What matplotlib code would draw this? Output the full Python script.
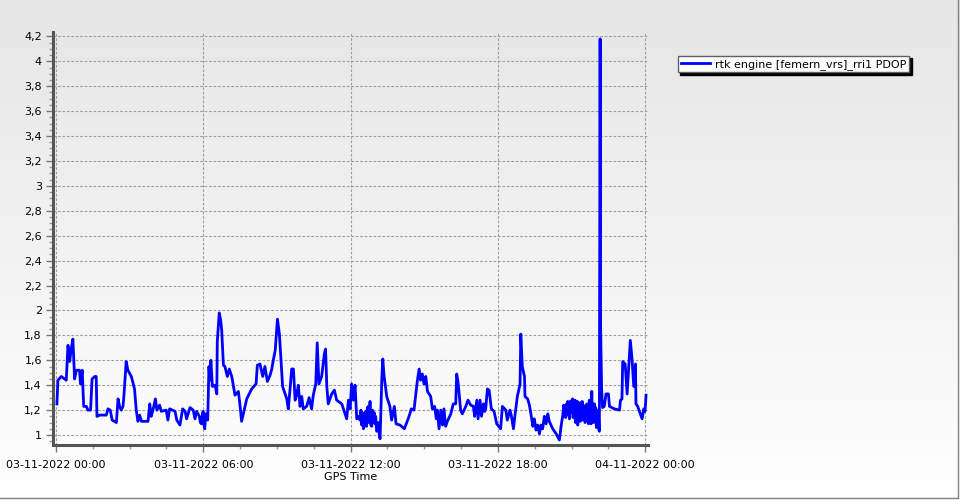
import numpy as np
import matplotlib
matplotlib.use("Agg")
import matplotlib.pyplot as plt
from matplotlib.lines import Line2D
from matplotlib.ticker import MultipleLocator, FuncFormatter

# (hours since 03-11-2022 00:00, PDOP) in four 6h blocks
pdop_00_06 = [
    (0.04, 1.25), (0.08, 1.44), (0.22, 1.47), (0.42, 1.44), (0.49, 1.72), (0.56, 1.59),
    (0.62, 1.69), (0.69, 1.77), (0.76, 1.45), (0.83, 1.52), (0.96, 1.52), (1.00, 1.41),
    (1.07, 1.52), (1.13, 1.23), (1.24, 1.23), (1.30, 1.20), (1.41, 1.20), (1.47, 1.45),
    (1.58, 1.47), (1.64, 1.47), (1.67, 1.15), (1.78, 1.16), (2.05, 1.16), (2.12, 1.21),
    (2.21, 1.20), (2.29, 1.12), (2.46, 1.10), (2.53, 1.29), (2.59, 1.23), (2.66, 1.20),
    (2.73, 1.23), (2.77, 1.32), (2.86, 1.59), (2.93, 1.52), (3.07, 1.47), (3.20, 1.37),
    (3.27, 1.20), (3.34, 1.11), (3.41, 1.16), (3.48, 1.11), (3.75, 1.11), (3.82, 1.25),
    (3.88, 1.15), (3.95, 1.20), (4.05, 1.29), (4.11, 1.20), (4.22, 1.24), (4.29, 1.19),
    (4.49, 1.20), (4.56, 1.12), (4.63, 1.21), (4.85, 1.19), (4.92, 1.12), (5.05, 1.08),
    (5.16, 1.21), (5.26, 1.19), (5.32, 1.13), (5.46, 1.22), (5.59, 1.20), (5.66, 1.13),
    (5.73, 1.19), (5.84, 1.15), (5.88, 1.10), (5.93, 1.09), (5.97, 1.18), (6.00, 1.19),
]
pdop_06_12 = [
    (6.03, 1.08), (6.06, 1.05), (6.09, 1.15), (6.11, 1.17), (6.18, 1.12), (6.23, 1.55),
    (6.27, 1.44), (6.31, 1.60), (6.37, 1.39), (6.48, 1.40), (6.55, 1.33), (6.57, 1.75),
    (6.65, 1.98), (6.71, 1.92), (6.75, 1.84), (6.82, 1.56), (6.88, 1.55), (6.98, 1.47),
    (7.06, 1.53), (7.16, 1.47), (7.29, 1.32), (7.43, 1.35), (7.50, 1.23), (7.56, 1.11),
    (7.63, 1.17), (7.77, 1.29), (7.97, 1.37), (8.15, 1.41), (8.20, 1.56), (8.31, 1.57),
    (8.42, 1.47), (8.51, 1.55), (8.61, 1.43), (8.72, 1.48), (8.79, 1.53), (8.85, 1.60),
    (8.93, 1.68), (9.02, 1.93), (9.10, 1.81), (9.15, 1.65), (9.23, 1.39), (9.33, 1.33),
    (9.40, 1.29), (9.46, 1.21), (9.53, 1.36), (9.60, 1.53), (9.67, 1.53), (9.74, 1.28),
    (9.80, 1.32), (9.87, 1.40), (9.94, 1.23), (10.01, 1.31), (10.07, 1.21), (10.21, 1.23),
    (10.31, 1.30), (10.41, 1.21), (10.48, 1.32), (10.58, 1.41), (10.64, 1.74), (10.71, 1.41),
    (10.82, 1.47), (10.93, 1.65), (10.98, 1.69), (11.03, 1.39), (11.09, 1.25), (11.23, 1.33),
    (11.34, 1.36), (11.43, 1.28), (11.64, 1.25), (11.84, 1.13), (11.91, 1.28), (11.98, 1.21),
]
pdop_12_18 = [
    (12.04, 1.41), (12.11, 1.28), (12.18, 1.40), (12.25, 1.13), (12.32, 1.15), (12.38, 1.12),
    (12.42, 1.20), (12.45, 1.08), (12.48, 1.18), (12.52, 1.05), (12.55, 1.17), (12.58, 1.07),
    (12.62, 1.19), (12.65, 1.07), (12.68, 1.22), (12.72, 1.23), (12.75, 1.10), (12.79, 1.27),
    (12.82, 1.08), (12.86, 1.07), (12.89, 1.20), (12.93, 1.12), (12.96, 1.18), (12.99, 1.09),
    (13.02, 1.15), (13.06, 1.03), (13.10, 1.04), (13.13, 1.10), (13.17, 0.99), (13.20, 0.97),
    (13.27, 1.45), (13.31, 1.61), (13.36, 1.48), (13.47, 1.31), (13.60, 1.23), (13.67, 1.12),
    (13.78, 1.23), (13.85, 1.09), (14.01, 1.08), (14.19, 1.05), (14.38, 1.15), (14.47, 1.21),
    (14.58, 1.20), (14.65, 1.32), (14.72, 1.44), (14.79, 1.53), (14.85, 1.44), (14.92, 1.49),
    (14.99, 1.41), (15.06, 1.47), (15.13, 1.35), (15.26, 1.31), (15.33, 1.21), (15.42, 1.23),
    (15.49, 1.13), (15.53, 1.20), (15.60, 1.05), (15.67, 1.20), (15.74, 1.08), (15.80, 1.21),
    (15.87, 1.07), (15.94, 1.11), (16.08, 1.17), (16.18, 1.25), (16.28, 1.25), (16.32, 1.49),
    (16.37, 1.43), (16.42, 1.33), (16.48, 1.20), (16.55, 1.17), (16.69, 1.23), (16.78, 1.28),
    (16.89, 1.24), (17.00, 1.23), (17.05, 1.15), (17.14, 1.28), (17.19, 1.13), (17.27, 1.28),
    (17.33, 1.15), (17.41, 1.25), (17.46, 1.19), (17.50, 1.21), (17.57, 1.37), (17.64, 1.36),
    (17.73, 1.21), (17.84, 1.19), (17.95, 1.09),
]
pdop_18_24 = [
    (18.11, 1.05), (18.18, 1.23), (18.32, 1.20), (18.38, 1.12), (18.49, 1.20), (18.55, 1.15),
    (18.63, 1.05), (18.70, 1.17), (18.79, 1.31), (18.90, 1.41), (18.93, 1.81), (18.99, 1.55),
    (19.08, 1.47), (19.10, 1.31), (19.21, 1.29), (19.28, 1.24), (19.35, 1.16), (19.42, 1.07),
    (19.48, 1.13), (19.55, 1.04), (19.62, 1.08), (19.69, 1.01), (19.75, 1.08), (19.82, 1.05),
    (19.89, 1.15), (19.96, 1.09), (20.03, 1.17), (20.09, 1.11), (20.23, 1.05), (20.37, 1.01),
    (20.50, 0.96), (20.57, 1.07), (20.64, 1.16), (20.68, 1.24), (20.71, 1.15), (20.73, 1.23),
    (20.76, 1.14), (20.79, 1.25), (20.81, 1.17), (20.84, 1.27), (20.86, 1.16), (20.88, 1.25),
    (20.91, 1.13), (20.94, 1.27), (20.96, 1.18), (20.98, 1.20), (21.01, 1.28), (21.04, 1.29),
    (21.06, 1.14), (21.08, 1.25), (21.11, 1.17), (21.14, 1.28), (21.16, 1.10), (21.18, 1.25),
    (21.21, 1.12), (21.23, 1.27), (21.25, 1.08), (21.28, 1.26), (21.30, 1.13), (21.32, 1.25),
    (21.35, 1.11), (21.38, 1.26), (21.40, 1.14), (21.43, 1.27), (21.45, 1.12), (21.48, 1.24),
    (21.50, 1.17), (21.52, 1.22), (21.55, 1.10), (21.57, 1.23), (21.59, 1.14), (21.62, 1.25),
    (21.64, 1.12), (21.66, 1.20), (21.69, 1.09), (21.72, 1.28), (21.74, 1.12), (21.77, 1.22),
    (21.79, 1.09), (21.82, 1.35), (21.85, 1.13), (21.88, 1.25), (21.90, 1.10), (21.93, 1.25),
    (21.95, 1.12), (21.98, 1.22), (22.01, 1.06), (22.04, 1.20), (22.07, 1.08), (22.09, 1.20),
    (22.11, 1.04), (22.13, 1.03), (22.16, 4.18), (22.18, 1.86), (22.22, 1.38), (22.26, 1.22),
    (22.33, 1.23), (22.40, 1.33), (22.50, 1.33), (22.54, 1.23), (22.74, 1.21), (22.95, 1.20),
    (22.99, 1.28), (23.05, 1.29), (23.08, 1.59), (23.18, 1.57), (23.26, 1.33), (23.31, 1.49),
    (23.39, 1.76), (23.46, 1.61), (23.53, 1.39), (23.60, 1.57), (23.62, 1.25), (23.69, 1.23),
    (23.80, 1.17), (23.87, 1.13), (23.94, 1.21), (23.99, 1.19), (24.03, 1.32),
]
tick_hours = [0, 6, 12, 18, 24]
tick_labels = ["03-11-2022 00:00", "03-11-2022 06:00", "03-11-2022 12:00",
               "03-11-2022 18:00", "04-11-2022 00:00"]
series_name = "rtk engine [femern_vrs]_rri1 PDOP"

samples = pdop_00_06 + pdop_06_12 + pdop_12_18 + pdop_18_24
hours = [h for h, v in samples]
pdop = [v for h, v in samples]

fig = plt.figure(figsize=(9.6, 5), dpi=100)

# background gradient
bg = fig.add_axes([0, 0, 1, 1], zorder=-10)
grad = np.linspace(0, 1, 256).reshape(-1, 1)
bg.imshow(grad, aspect="auto", cmap=matplotlib.colors.LinearSegmentedColormap.from_list(
    "bg", ["#e6e6e6", "#ffffff"]), extent=[0, 1, 0, 1], origin="upper")
bg.axis("off")

ax = fig.add_axes([53 / 960, 55 / 500, 595 / 960, 413 / 500])
ax.set_facecolor("none")
ax.plot(hours, pdop, color="#0000ff", lw=2.0, label=series_name)

ax.set_xlim(-0.12, 24.11)
ax.set_ylim(0.92, 4.235)
ax.set_xticks(tick_hours)
ax.set_xticklabels(tick_labels)
ax.xaxis.set_minor_locator(MultipleLocator(1.5))
ax.yaxis.set_major_locator(MultipleLocator(0.2))
ax.yaxis.set_minor_locator(MultipleLocator(0.05))
ax.yaxis.set_major_formatter(FuncFormatter(lambda v, p: ("%g" % round(v, 1)).replace(".", ",")))

for s in ["top", "right"]:
    ax.spines[s].set_visible(False)
for s in ["left", "bottom"]:
    ax.spines[s].set_linewidth(2.2)
    ax.spines[s].set_color("#555555")

ax.tick_params(axis="both", which="major", length=5, width=1, color="#777777",
               labelsize=8, labelcolor="#000000")
ax.tick_params(axis="both", which="minor", length=3, width=1, color="#999999")
ax.tick_params(axis="x", pad=6)
ax.tick_params(axis="y", pad=3)

ax.grid(True, which="major", color="#a0a0a0", linestyle=(0, (2.5, 1.5)), linewidth=0.8)
ax.set_xlabel("GPS Time", fontsize=8, labelpad=1)

leg = fig.legend(loc="upper left", bbox_to_anchor=(678 / 960, 1 - 56 / 500), fontsize=8,
                 fancybox=False, frameon=True, handlelength=2.6, handletextpad=0.5,
                 borderpad=0.25, borderaxespad=0,
                 shadow={"color": "black", "alpha": 1, "ox": 1.6, "oy": -1.6})
leg.get_frame().set_edgecolor("#606060")
leg.get_frame().set_linewidth(1)
leg.get_frame().set_facecolor("white")

# outer border
fig.add_artist(Line2D([0, 0.998], [0.005, 0.005], transform=fig.transFigure, color="#808080", lw=1))
fig.add_artist(Line2D([0.998, 0.998], [0.005, 1], transform=fig.transFigure, color="#808080", lw=1))

fig.savefig("out.png", dpi=100)
